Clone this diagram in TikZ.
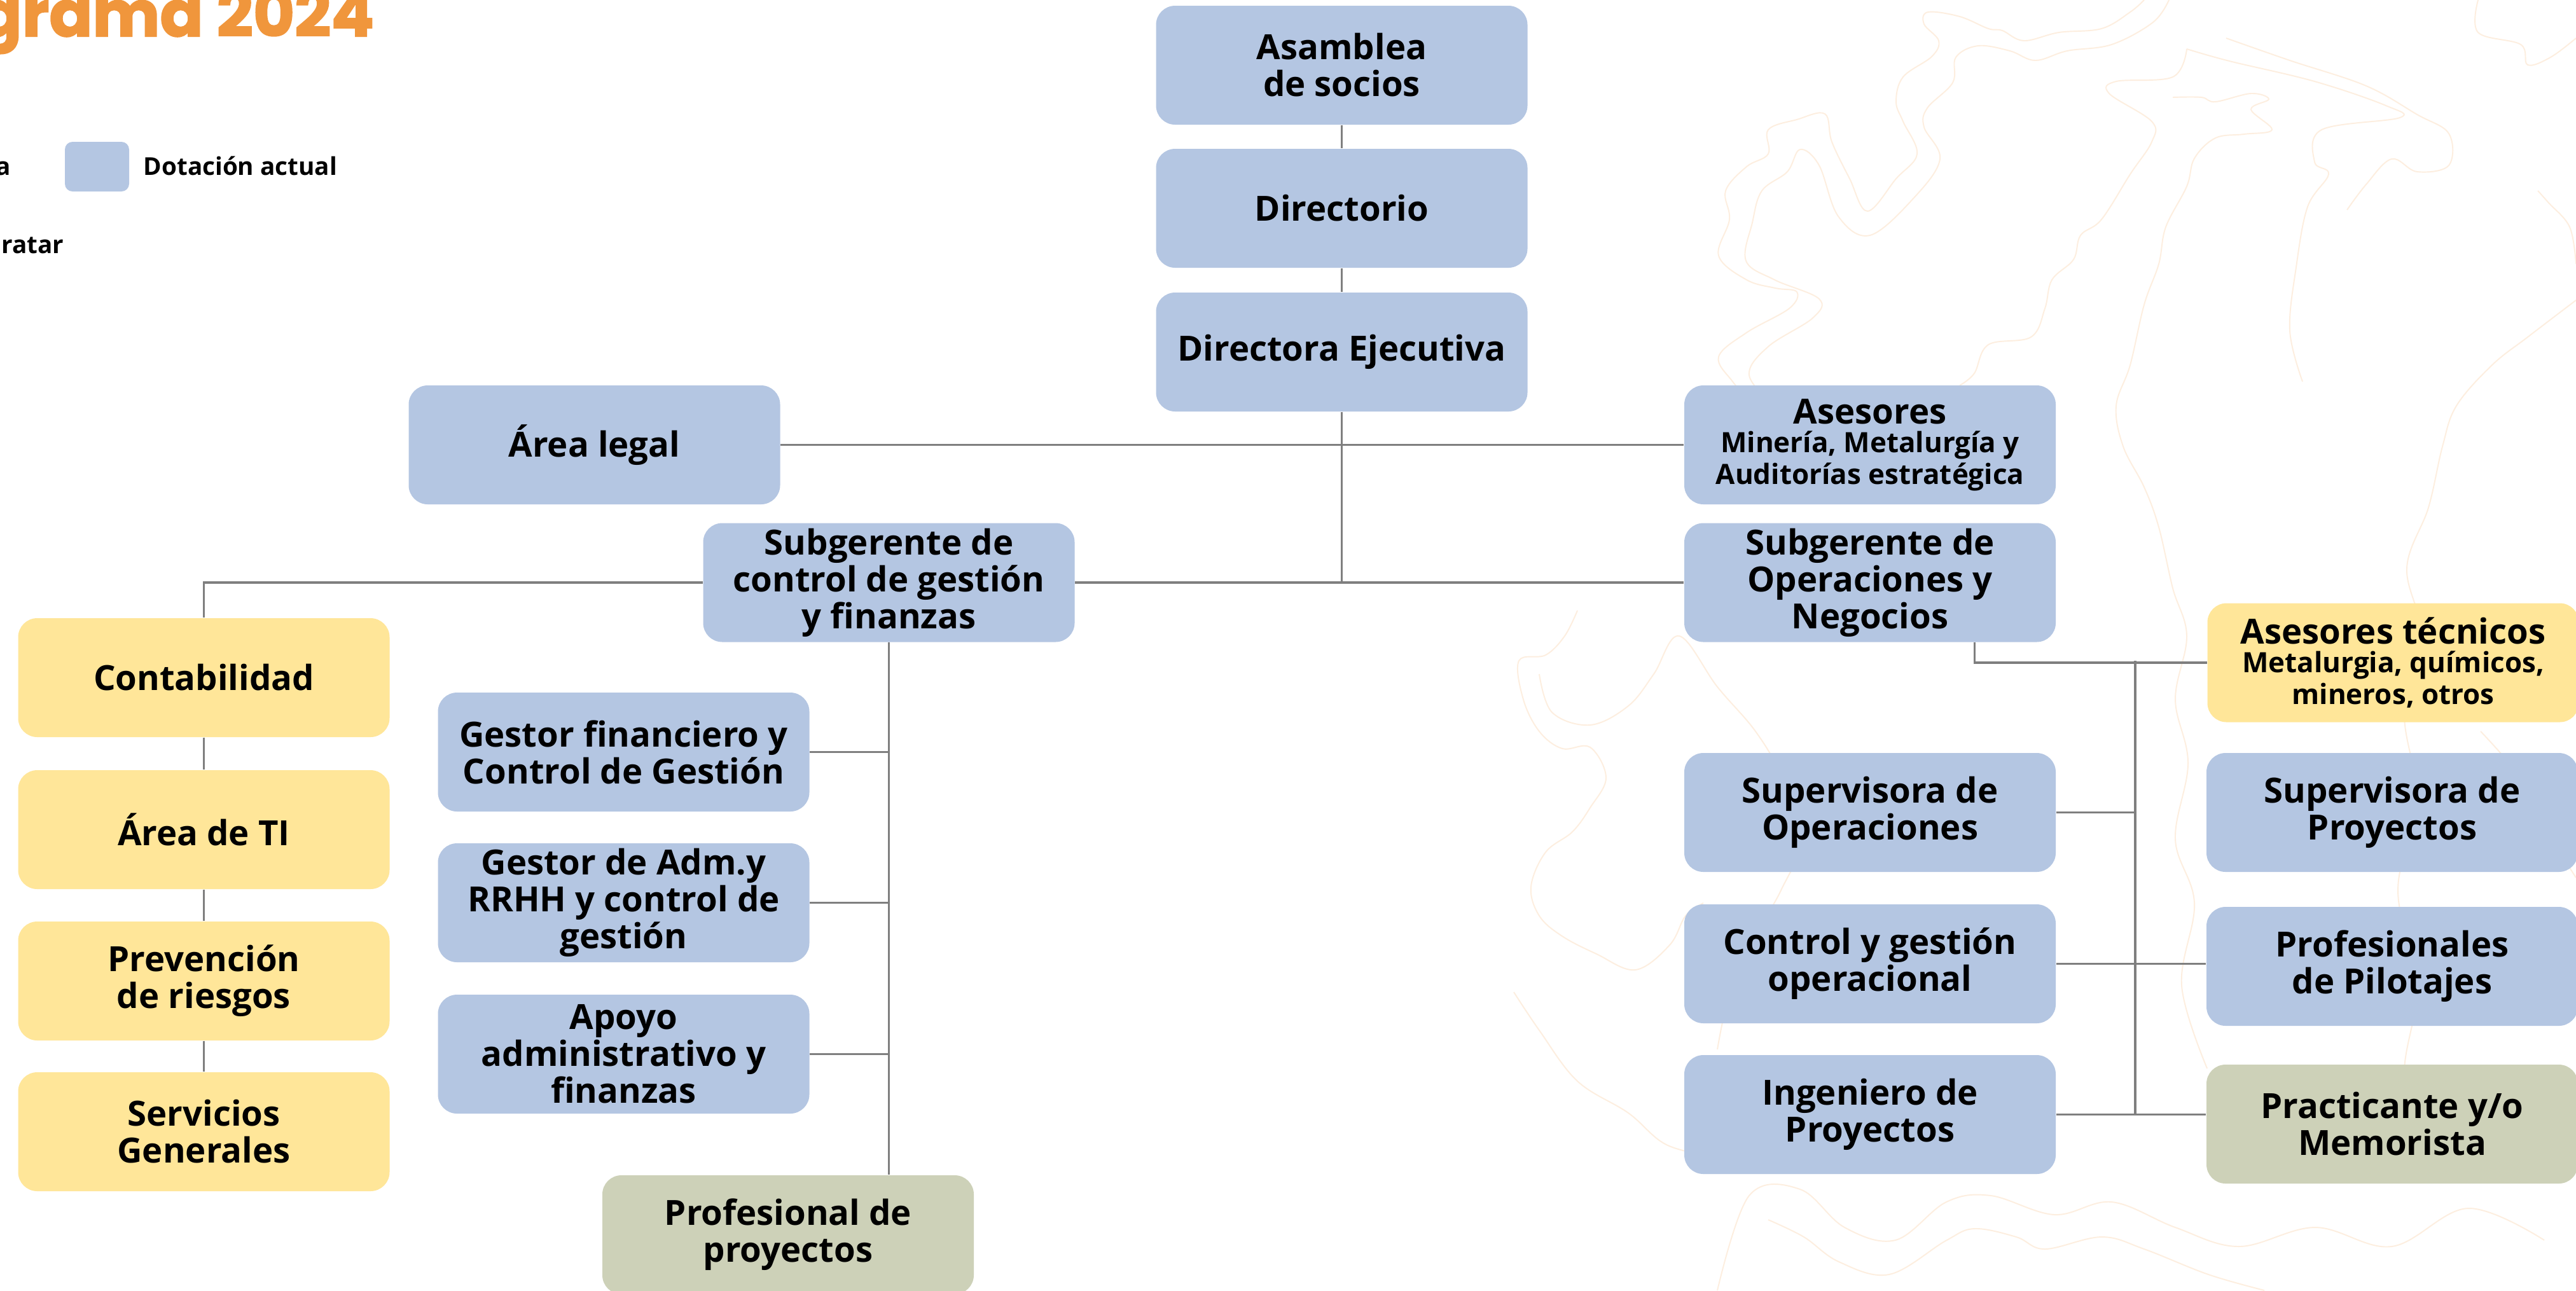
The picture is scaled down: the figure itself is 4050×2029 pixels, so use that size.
\documentclass[tikz,border=0pt]{standalone}
\usepackage{fontspec}
\setmainfont{Open Sans}
\newfontfamily\titlefont{Poppins}[BoldFeatures={FakeBold=2}]
\usetikzlibrary{calc}
\definecolor{bxblue}{HTML}{B4C6E2}
\definecolor{bxyellow}{HTML}{FFE699}
\definecolor{bxgreen}{HTML}{CDD1B8}
\definecolor{lngray}{HTML}{7F7F7F}
\definecolor{topo}{HTML}{FDEEDF}
\definecolor{ttlorange}{HTML}{F0963C}
\newcommand{\subf}{\fontsize{12.5}{14}\selectfont}
\begin{document}
\begin{tikzpicture}[x=0.1mm,y=-0.1mm,
  box/.style={rounded corners=3mm, minimum width=58.4mm, minimum height=18.7mm, inner sep=0pt, align=center, font=\fontsize{15.5}{16.5}\selectfont\bfseries},
  cur/.style={box, fill=bxblue},
  newp/.style={box, fill=bxyellow},
  hire/.style={box, fill=bxgreen},
  conn/.style={draw=lngray, line width=0.9pt},
  topoline/.style={draw=topo, line width=0.55pt},
  legtxt/.style={inner sep=0pt, font=\fontsize{11}{13}\selectfont\bfseries}
]
\useasboundingbox (0,0) rectangle (4050,2029);
\clip (0,0) rectangle (4050,2029);
\fill[white] (0,0) rectangle (4050,2029);

% background contour lines
\draw[topoline] plot[smooth, tension=0.6] coordinates {(3371,0) (3349,19) (3304,45) (3237,51) (3182,64) (3148,48) (3126,45) (3081,26) (3031,19) (3025,38) (3048,64) (3037,89) (2992,121) (2981,160) (2992,191) (3014,242) (2981,281) (2936,332) (2908,281) (2880,223) (2869,179) (2825,188) (2780,204) (2780,242) (2746,262) (2713,300) (2719,345) (2702,402) (2746,440) (2791,453) (2825,459) (2813,485) (2746,523) (2702,561) (2724,600) (2760,640)};
\draw[topoline] plot[smooth, tension=0.6] coordinates {(3410,0) (3385,35) (3320,70) (3250,80) (3200,95) (3160,80) (3110,72) (3075,90) (3070,130) (3030,170) (3025,200) (3050,250) (3010,310) (2940,370) (2890,340) (2860,260) (2830,235) (2810,270) (2770,300) (2755,350) (2745,410) (2790,440) (2860,470) (2850,500) (2780,545) (2750,590) (2790,640)};
\draw[topoline] plot[smooth, tension=0.6] coordinates {(3438,77) (3416,121) (3327,128) (3316,147) (3383,191) (3383,223) (3349,274) (3304,345) (3271,370) (3260,408) (3226,440) (3215,485) (3193,530) (3126,542) (3104,587) (3081,606)};
\draw[topoline] plot[smooth, tension=0.6] coordinates {(3416,153) (3461,153) (3483,160) (3539,147) (3567,156) (3539,172) (3572,204) (3528,211) (3483,217) (3450,249) (3438,293) (3405,357) (3394,415) (3371,479) (3349,574) (3327,638) (3338,702) (3371,766) (3394,829) (3416,925) (3438,1000) (3420,1100) (3440,1200) (3420,1320) (3450,1420) (3430,1550) (3470,1680)};
\draw[topoline] plot[smooth, tension=0.6] coordinates {(3438,77) (3505,96) (3639,128) (3751,166) (3773,185) (3650,204) (3639,255) (3661,274) (3628,325) (3610,420) (3600,520) (3620,600)};
\draw[topoline] plot[smooth, tension=0.6] coordinates {(3500,60) (3600,95) (3720,135) (3800,180) (3850,210) (3850,260) (3800,270) (3760,250) (3720,290) (3690,330)};
\draw[topoline] plot[smooth, tension=0.6] coordinates {(3896,0) (3896,51) (3963,70) (3974,102) (4010,90) (4050,60)};
\draw[topoline] plot[smooth, tension=0.6] coordinates {(3990,300) (4007,319) (4040,357) (4050,415)};
\draw[topoline] plot[smooth, tension=0.6] coordinates {(4050,472) (3974,530) (3918,574) (3862,638) (3840,702) (3818,798) (3784,893) (3807,1000) (3780,1120) (3800,1260) (3770,1400) (3800,1550) (3780,1700) (3820,1850)};
\draw[topoline] plot[smooth, tension=0.6] coordinates {(2480,960) (2460,1000) (2430,1030) (2388,1039) (2395,1100) (2420,1150) (2456,1177) (2500,1175) (2525,1223) (2500,1270) (2472,1308) (2430,1340) (2407,1394) (2420,1440) (2456,1472) (2510,1500) (2571,1525) (2625,1486) (2650,1440) (2678,1420)};
\draw[topoline] plot[smooth, tension=0.6] coordinates {(2420,1060) (2440,1120) (2500,1140) (2560,1110) (2600,1060) (2640,1000) (2700,1080) (2760,1150) (2800,1220) (2830,1320) (2800,1400) (2760,1470) (2720,1560) (2700,1650)};
\draw[topoline] plot[smooth, tension=0.6] coordinates {(2780,1918) (2836,1945) (2891,1984) (2970,2004) (3059,1951) (3104,1932) (3170,1945) (3215,1964) (3304,1945) (3371,1964) (3472,2004) (3560,2029)};
\draw[topoline] plot[smooth, tension=0.6] coordinates {(2700,2029) (2750,1880) (2830,1870) (2900,1930) (2980,1950) (3060,1890) (3130,1880) (3230,1910) (3320,1890) (3420,1930) (3520,1960) (3640,1930) (3760,1960) (3880,1900) (4000,1950)};
\draw[topoline] plot[smooth, tension=0.6] coordinates {(2380,1560) (2420,1620) (2480,1700) (2560,1750) (2620,1800) (2700,1820)};
\draw[topoline] plot[smooth, tension=0.6] coordinates {(3900,1150) (3960,1220) (4000,1300) (4050,1380)};

% title and legend
\node[anchor=base east, inner sep=0pt, text=ttlorange, font=\titlefont\fontsize{28.5}{30}\selectfont\bfseries] (title) at (589,57) {grama 2024};
\node[legtxt, anchor=base east] (lega) at (18,275) {a};
\node[fill=bxblue, rounded corners=1.2mm, minimum width=10.1mm, minimum height=7.8mm, inner sep=0pt] (legcur) at (152.5,262) {};
\node[legtxt, anchor=base west] (legcurtxt) at (225,275) {Dotación actual};
\node[legtxt, anchor=base west] (legb) at (2,398) {ratar};

% nodes
\node[cur] (asam) at (2109.5,102.5) {Asamblea\\de socios};
\node[cur] (dir) at (2109.5,327.5) {Directorio};
\node[cur] (dire) at (2109.5,553.5) {Directora Ejecutiva};
\node[cur] (legal) at (934.5,699.5) {Área legal};
\node[cur] (ases) at (2940,699.5) {Asesores\\[-3.6pt]\subf Minería, Metalurgía y\\[-2.4pt]\subf Auditorías estratégica};
\node[cur] (subctl) at (1397.5,916) {Subgerente de\\control de gestión\\y finanzas};
\node[cur] (subops) at (2940,916) {Subgerente de\\Operaciones y\\Negocios};
\node[newp] (conta) at (320.5,1065.5) {Contabilidad};
\node[newp] (ti) at (320.5,1304.5) {Área de TI};
\node[newp] (prev) at (320.5,1542.5) {Prevención\\de riesgos};
\node[newp] (serv) at (320.5,1779.5) {Servicios\\Generales};
\node[cur] (gfin) at (980.5,1182.5) {Gestor financiero y\\Control de Gestión};
\node[cur] (gadm) at (980.5,1419.5) {Gestor de Adm.y\\RRHH y control de\\gestión};
\node[cur] (apoyo) at (980.5,1657.5) {Apoyo\\administrativo y\\finanzas};
\node[hire] (profp) at (1239,1941.5) {Profesional de\\proyectos};
\node[newp] (tec) at (3762.5,1042) {Asesores técnicos\\[-3.6pt]\subf Metalurgia, químicos,\\[-2.4pt]\subf mineros, otros};
\node[cur] (supops) at (2940,1277.5) {Supervisora de\\Operaciones};
\node[cur] (ctlop) at (2940,1515.5) {Control y gestión\\operacional};
\node[cur] (ing) at (2940,1752.5) {Ingeniero de\\Proyectos};
\node[cur] (supproy) at (3761,1277.5) {Supervisora de\\Proyectos};
\node[cur] (pilot) at (3761,1519.5) {Profesionales\\de Pilotajes};
\node[hire] (prac) at (3761,1767.5) {Practicante y/o\\Memorista};

% connectors
\draw[conn] (asam.south) -- (dir.north);
\draw[conn] (dir.south) -- (dire.north);
\draw[conn] (dire.south) -- (dire.south |- subctl.east);
\draw[conn] (legal.east) -- (legal.east -| ases.west);
\draw[conn] (subctl.east) -- (subctl.east -| subops.west);
\draw[conn] (subctl.west) -| (conta.north);
\draw[conn] (conta.south) -- (ti.north);
\draw[conn] (ti.south) -- (prev.north);
\draw[conn] (prev.south) -- (serv.north);
\draw[conn] (subctl.south) -- (subctl.south |- profp.north);
\draw[conn] (gfin.east) -- (gfin.east -| subctl.south);
\draw[conn] (gadm.east) -- (gadm.east -| subctl.south);
\draw[conn] (apoyo.east) -- (apoyo.east -| subctl.south);
\coordinate (opsdrop) at ([xshift=-12.8mm]subops.south east);
\draw[conn] (opsdrop) |- (tec.west);
\coordinate (bus) at (3357,1039);
\draw[conn] (bus) -- (bus |- ing.east);
\draw[conn] (supops.east) -- (supops.east -| bus);
\draw[conn] (ctlop.east) -- (ctlop.east -| pilot.west);
\draw[conn] (ing.east) -- (ing.east -| prac.west);
\end{tikzpicture}
\end{document}
